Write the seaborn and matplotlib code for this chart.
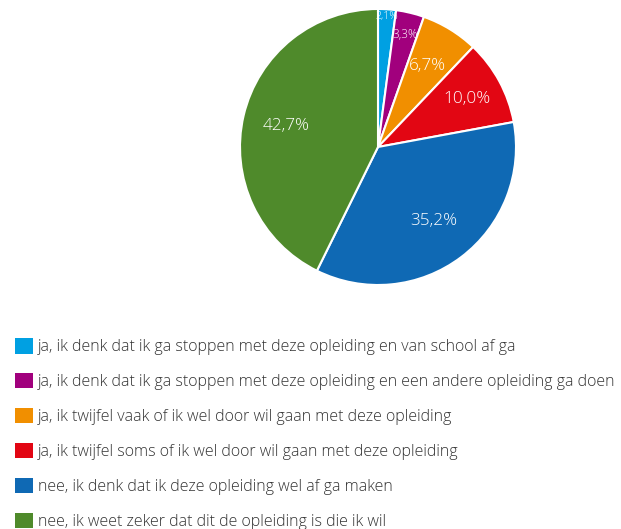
import matplotlib
matplotlib.use("Agg")
import matplotlib.pyplot as plt
import seaborn as sns
from matplotlib.patches import Patch
import numpy as np

# ==================== DATA ====================
LABELS = [
    "ja, ik denk dat ik ga stoppen met deze opleiding en van school af ga",
    "ja, ik denk dat ik ga stoppen met deze opleiding en een andere opleiding ga doen",
    "ja, ik twijfel vaak of ik wel door wil gaan met deze opleiding",
    "ja, ik twijfel soms of ik wel door wil gaan met deze opleiding",
    "nee, ik denk dat ik deze opleiding wel af ga maken",
    "nee, ik weet zeker dat dit de opleiding is die ik wil",
]
VALUES = [2.1, 3.3, 6.7, 10.0, 35.2, 42.7]
COLORS = ["#00a0e2", "#a1007d", "#f18f00", "#e20613", "#0f69b4", "#4f8a2b"]

# label style per slice (radius fraction, font size)
LABEL_RADII = [0.95, 0.84, 0.69, 0.73, 0.67, 0.68]
LABEL_SIZES = [7.5, 8.5, 12.3, 12.3, 12.3, 12.3]

# ==================== PLOT ====================
sns.set_theme(style="white")
plt.rcParams["font.family"] = ["Open Sans", "DejaVu Sans"]
plt.rcParams["font.weight"] = 300
palette = sns.color_palette(COLORS)

fig = plt.figure(figsize=(6.21, 5.29), dpi=100)
ax = fig.add_axes([240 / 621, 1 - 285 / 529, 276 / 621, 276 / 529])

wedges, _ = ax.pie(
    VALUES,
    colors=palette,
    startangle=90,
    counterclock=False,
    wedgeprops={"edgecolor": "white", "linewidth": 1.5},
)
for w, v, r, fs in zip(wedges, VALUES, LABEL_RADII, LABEL_SIZES):
    ang = np.deg2rad((w.theta1 + w.theta2) / 2)
    ax.text(r * np.cos(ang), r * np.sin(ang), f"{v:.1f}%".replace(".", ","),
            ha="center", va="center", color="white", fontsize=fs,
            fontweight=300)
ax.set_aspect("equal")
ax.set_xlim(-1, 1)
ax.set_ylim(-1, 1)
ax.axis("off")

handles = [Patch(facecolor=c, edgecolor="none") for c in palette]
fig.legend(
    handles, LABELS,
    loc="upper left",
    bbox_to_anchor=(15 / 621, 1 - 338 / 529),
    frameon=False,
    fontsize=11.5,
    labelcolor="#333333",
    handlelength=1.12,
    handleheight=1.12,
    handletextpad=0.3,
    labelspacing=1.11,
    borderpad=0,
    borderaxespad=0,
)

fig.savefig("out.png", dpi=100)
